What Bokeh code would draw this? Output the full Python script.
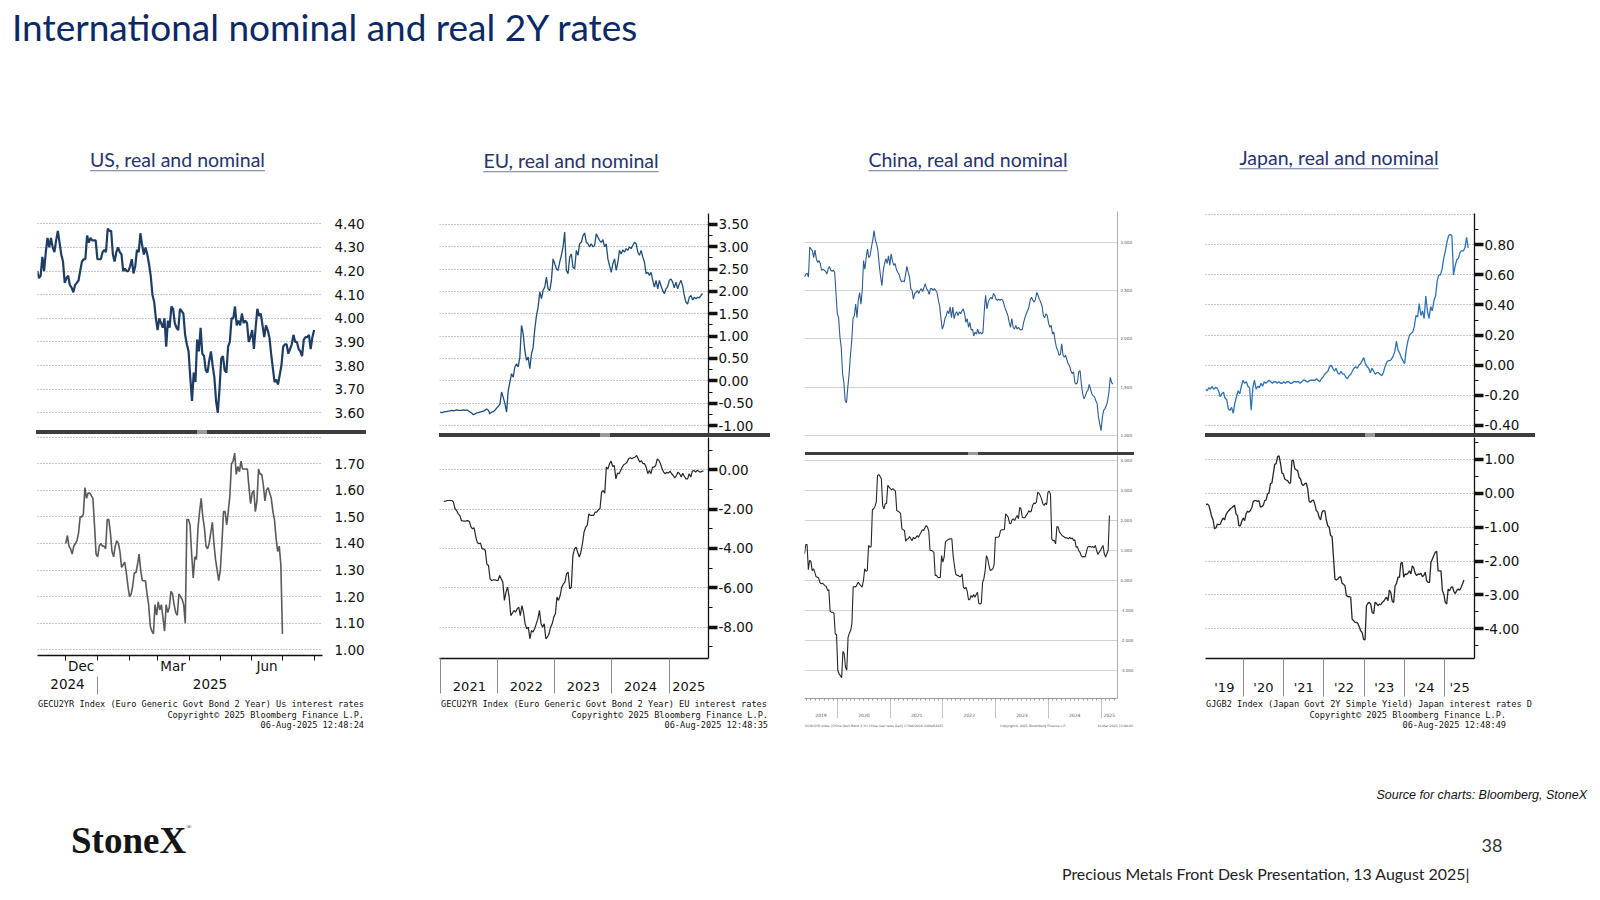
import numpy as np
import pandas as pd
from bokeh.plotting import figure
from bokeh.models import Range1d, LinearAxis, FixedTicker, NumeralTickFormatter, Div, Spacer
from bokeh.layouts import column, row
from bokeh.embed import file_html
from bokeh.resources import INLINE

# ------------------------------------------------------------------ data
TITLE = "International nominal and real 2Y rates"
SUBTITLES = ["US, real and nominal", "EU, real and nominal",
             "China, real and nominal", "Japan, real and nominal"]

US_NOMINAL_SPAN = ("2024-11-03", "2025-08-01")
US_NOMINAL = [4.20,4.17,4.18,4.26,4.20,4.28,4.34,4.30,4.34,4.30,4.28,4.33,4.37,4.32,4.27,4.24,4.15,4.17,4.18,4.14,
              4.13,4.11,4.14,4.15,4.16,4.20,4.24,4.25,4.25,4.35,4.32,4.34,4.33,4.33,4.33,4.25,4.25,4.25,4.28,4.29,
              4.28,4.38,4.37,4.37,4.27,4.24,4.28,4.30,4.28,4.27,4.20,4.21,4.20,4.20,4.22,4.25,4.19,4.22,4.29,4.28,
              4.36,4.31,4.27,4.30,4.27,4.23,4.18,4.10,4.07,4.00,3.95,4.00,3.98,3.96,4.00,3.88,3.99,3.96,4.05,4.04,
              3.98,3.96,3.95,4.04,4.03,4.02,3.93,3.89,3.86,3.75,3.65,3.77,3.73,3.91,3.86,3.96,3.85,3.84,3.78,3.77,
              3.82,3.86,3.80,3.75,3.65,3.60,3.70,3.83,3.84,3.78,3.77,3.88,3.90,4.00,4.00,4.05,3.97,3.99,3.97,4.02,
              3.98,3.99,3.98,3.90,3.92,3.95,3.87,3.96,4.04,4.01,4.02,3.97,3.92,3.97,3.95,3.92,3.85,3.79,3.73,3.74,
              3.72,3.76,3.80,3.88,3.89,3.89,3.85,3.87,3.89,3.93,3.90,3.90,3.87,3.86,3.84,3.91,3.92,3.92,3.93,3.87,
              3.92,3.95]
US_REAL_SPAN = ("2024-12-01", "2025-07-01")
US_REAL = [1.40,1.43,1.39,1.38,1.36,1.39,1.40,1.41,1.44,1.50,1.50,1.51,1.61,1.57,1.59,1.59,1.58,1.57,1.47,1.36,
           1.35,1.39,1.40,1.39,1.39,1.38,1.49,1.49,1.44,1.37,1.35,1.39,1.41,1.40,1.37,1.31,1.32,1.33,1.29,1.24,
           1.20,1.21,1.24,1.29,1.29,1.32,1.36,1.30,1.26,1.26,1.26,1.21,1.17,1.09,1.07,1.06,1.17,1.13,1.18,1.15,
           1.17,1.12,1.07,1.17,1.14,1.16,1.22,1.21,1.17,1.14,1.13,1.21,1.20,1.19,1.17,1.10,1.49,1.49,1.47,1.36,
           1.27,1.35,1.34,1.46,1.52,1.57,1.50,1.46,1.39,1.38,1.40,1.44,1.48,1.40,1.34,1.30,1.26,1.30,1.40,1.52,
           1.52,1.47,1.52,1.58,1.70,1.71,1.74,1.66,1.69,1.67,1.71,1.68,1.68,1.68,1.68,1.61,1.55,1.59,1.60,1.52,
           1.56,1.68,1.66,1.66,1.62,1.56,1.60,1.61,1.59,1.57,1.52,1.49,1.42,1.37,1.39,1.32,1.06]
US_NOMINAL_TICKS = [3.6, 3.7, 3.8, 3.9, 4.0, 4.1, 4.2, 4.3, 4.4]
US_REAL_TICKS = [1.0, 1.1, 1.2, 1.3, 1.4, 1.5, 1.6, 1.7]
US_REAL_GRID = [1.0, 1.1, 1.2, 1.3, 1.4, 1.5, 1.6, 1.7, 1.8]
US_MONTH_STARTS = ["2024-12-01", "2025-01-01", "2025-02-01", "2025-03-01", "2025-04-01",
                   "2025-05-01", "2025-06-01", "2025-07-01", "2025-08-01"]
US_MONTH_LABELS = ["Dec", "Mar", "Jun"]
US_MONTH_LABEL_AT = ["2024-12-16", "2025-03-16", "2025-06-16"]
US_YEARS = [2024, 2025]

EU_NOMINAL_SPAN = ("2020-12-27", "2025-08-04")
EU_NOMINAL = [-0.70,-0.71,-0.70,-0.69,-0.69,-0.68,-0.67,-0.66,-0.67,-0.66,-0.65,-0.66,-0.66,-0.66,-0.65,-0.66,
              -0.65,-0.67,-0.70,-0.72,-0.76,-0.74,-0.72,-0.71,-0.70,-0.69,-0.68,-0.66,-0.63,-0.66,-0.74,-0.70,
              -0.69,-0.66,-0.61,-0.57,-0.52,
              -0.25,-0.37,-0.51,-0.70,-0.22,-0.03,0.16,0.08,0.31,0.38,0.31,0.53,1.24,1.05,0.68,0.46,0.53,0.27,
              0.60,0.75,1.16,1.46,1.65,1.99,1.84,2.02,2.10,2.32,2.06,2.02,2.25,2.73,2.62,2.51,2.47,2.66,2.81,
              3.00,3.33,2.47,2.40,2.77,2.84,2.54,2.51,2.92,2.81,3.07,3.10,3.25,3.31,3.10,3.07,3.00,3.07,3.00,
              3.03,3.29,3.22,3.14,3.10,3.16,3.00,3.07,2.73,2.58,2.43,2.62,2.73,2.47,2.66,2.92,2.84,2.93,2.88,
              2.96,2.92,3.00,2.96,3.03,3.10,3.07,2.88,2.81,2.92,2.77,2.66,2.40,2.43,2.36,2.43,2.25,2.10,2.25,
              2.06,2.25,2.13,2.02,1.95,2.06,2.11,2.25,2.28,2.21,2.08,2.21,2.06,2.17,2.25,2.13,1.91,1.76,1.72,
              1.87,1.91,1.81,1.87,1.84,1.87,1.86,1.91,1.96]
EU_REAL_SPAN = ("2021-01-20", "2025-08-10")
EU_REAL = [-1.61,-1.60,-1.56,-1.56,-1.56,-1.56,-1.64,-1.98,-2.07,-2.24,-2.32,-2.58,-2.60,-2.61,-2.60,-2.58,
           -2.63,-2.90,-3.00,-2.95,-3.40,-3.70,-3.76,-3.73,-4.02,-4.02,-4.10,-4.80,-4.86,-5.54,-5.63,-5.60,
           -5.59,-5.62,-5.63,-5.37,-5.54,-5.71,
           -6.64,-6.22,-5.97,-6.47,-7.41,-7.29,-7.15,-7.24,-7.07,-6.98,-7.41,-6.90,-7.24,-7.83,-8.08,-8.00,
           -8.59,-8.17,-8.25,-8.08,-7.83,-7.58,-7.15,-7.83,-8.00,-7.83,-8.59,-8.51,-8.34,-8.00,-7.83,-7.49,
           -7.32,-6.47,-6.64,-6.39,-5.97,-5.80,-5.71,-5.29,-5.20,-6.05,-5.97,-4.36,-4.02,-3.93,-4.19,-4.44,
           -4.19,-3.76,-3.17,-2.92,-2.83,-2.24,-2.32,-2.32,-2.32,-2.15,-2.15,-2.03,-1.98,-1.14,-1.05,-1.19,
           0.14,0.05,0.31,0.44,0.17,0.22,-0.46,-0.17,-0.20,-0.03,0.14,0.27,0.31,0.39,0.56,0.61,0.56,0.61,
           0.64,0.73,0.56,0.39,0.47,0.31,0.31,0.14,-0.20,-0.03,-0.20,0.14,0.14,0.22,0.56,0.47,0.31,0.05,
           -0.12,-0.20,-0.12,-0.17,-0.07,-0.20,-0.29,-0.41,-0.29,-0.12,-0.20,-0.37,-0.17,-0.34,-0.46,-0.46,
           -0.20,-0.37,-0.07,-0.03,-0.12,-0.03,-0.07,-0.12,-0.07,-0.07]
EU_NOMINAL_TICKS = [-1.0, -0.5, 0.0, 0.5, 1.0, 1.5, 2.0, 2.5, 3.0, 3.5]
EU_NOMINAL_MINOR = [-0.75, -0.25, 0.25, 0.75, 1.25, 1.75, 2.25, 2.75, 3.25]
EU_REAL_TICKS = [-8.0, -6.0, -4.0, -2.0, 0.0]
EU_REAL_MINOR = [-9.0, -7.0, -5.0, -3.0, -1.0, 1.0]
EU_YEARS = [2021, 2022, 2023, 2024, 2025]

CN_NOMINAL_SPAN = ("2019-05-17", "2025-03-24")
CN_NOMINAL = [2.64,2.67,2.68,2.64,2.95,2.93,2.91,2.84,2.92,2.83,2.79,2.81,2.78,2.71,2.72,2.71,2.70,2.67,2.72,2.75,
              2.71,2.70,2.71,2.69,2.47,2.26,2.22,2.02,1.91,1.64,1.55,1.36,1.34,1.50,1.64,1.83,1.98,2.21,2.24,2.36,
              2.22,2.40,2.48,2.36,2.50,2.81,2.72,2.84,2.93,2.84,2.86,2.95,3.02,3.12,3.02,2.98,2.91,2.76,2.64,2.55,
              2.71,2.78,2.83,2.78,2.86,2.76,2.88,2.81,2.76,2.78,2.72,2.69,2.67,2.62,2.59,2.60,2.59,2.66,2.75,2.69,
              2.64,2.52,2.50,2.41,2.47,2.48,2.50,2.47,2.50,2.52,2.49,2.53,2.57,2.52,2.50,2.46,2.52,2.52,2.50,2.52,
              2.50,2.48,2.40,2.34,2.21,2.10,2.14,2.21,2.24,2.29,2.26,2.33,2.22,2.33,2.21,2.26,2.28,2.24,2.28,2.26,
              2.29,2.31,2.26,2.17,2.21,2.12,2.17,2.09,2.10,2.03,2.07,2.05,2.10,2.05,2.07,2.05,2.07,2.29,2.45,2.31,
              2.38,2.41,2.43,2.41,2.47,2.45,2.41,2.40,2.41,2.40,2.41,2.40,2.36,2.31,2.28,2.24,2.17,2.12,2.21,2.12,
              2.10,2.14,2.10,2.12,2.10,2.09,2.10,2.17,2.22,2.26,2.29,2.33,2.40,2.43,2.40,2.38,2.41,2.48,2.45,2.41,
              2.38,2.34,2.24,2.22,2.26,2.24,2.16,2.12,2.14,2.05,2.07,1.98,1.91,1.88,1.83,1.84,1.95,1.83,1.81,1.83,
              1.78,1.74,1.72,1.67,1.64,1.66,1.55,1.53,1.55,1.66,1.67,1.53,1.43,1.38,1.41,1.45,1.47,1.53,1.48,1.43,
              1.41,1.40,1.36,1.33,1.19,1.12,1.05,1.19,1.26,1.28,1.31,1.36,1.45,1.60,1.55,1.53]
CN_REAL_SPAN = ("2019-05-17", "2025-02-28")
CN_REAL = [0.89,1.20,1.20,0.36,0.67,0.64,0.33,0.39,0.28,0.13,0.11,0.09,-0.06,-0.11,-0.09,-0.13,-0.17,-0.20,-0.33,
           -0.31,-1.02,-1.06,-1.06,-1.09,-1.78,-1.80,-3.00,-3.11,-3.17,-3.24,-2.36,-2.44,-2.89,-2.98,-1.89,-1.76,
           -1.67,-1.44,-0.22,-0.20,-0.22,-0.13,-0.06,-0.13,-0.17,-0.22,0.00,0.39,0.31,0.33,1.17,1.11,1.13,2.36,
           2.39,2.47,2.61,3.50,3.53,3.47,3.39,2.50,2.39,2.56,2.56,3.17,3.11,3.06,3.02,3.06,3.02,2.98,2.33,2.31,
           2.28,2.24,1.72,1.69,1.67,1.31,1.38,1.39,1.47,1.39,1.33,1.44,1.39,1.44,1.50,1.44,1.53,1.61,1.69,1.67,
           1.76,1.83,1.78,1.64,1.00,1.00,0.98,0.94,0.17,0.17,0.11,0.09,0.11,0.83,0.61,0.78,1.28,1.33,1.36,1.38,
           1.39,1.39,0.83,0.50,0.22,0.17,0.17,0.13,0.13,0.22,-0.22,-0.28,-0.22,-0.36,-0.64,-0.64,-0.50,-0.56,
           -0.47,-0.56,-0.47,-0.39,-0.76,-0.78,-0.76,-0.06,0.06,0.33,0.83,0.72,0.50,0.33,0.36,0.39,0.53,1.44,
           1.44,1.44,1.47,1.67,1.69,1.69,1.69,2.22,2.17,2.11,1.91,1.89,2.02,2.06,2.00,2.09,2.17,2.06,2.44,2.39,
           2.11,2.09,2.09,2.17,2.22,2.33,2.28,2.31,2.50,2.58,2.56,2.61,2.94,2.91,2.83,2.72,2.56,2.50,2.58,2.53,
           2.94,2.98,2.87,1.39,1.33,1.33,1.22,1.80,1.78,1.61,1.56,1.50,1.47,1.44,1.42,1.42,1.39,1.44,1.39,1.42,
           1.33,1.36,1.11,1.13,1.00,0.94,0.83,0.78,0.80,0.78,0.94,1.11,1.13,1.13,1.11,1.13,1.09,1.17,1.00,0.87,
           0.94,1.00,1.09,1.17,0.89,0.78,0.89,1.00,2.17]
CN_NOMINAL_TICKS = [1.0, 1.5, 2.0, 2.5, 3.0]
CN_REAL_TICKS = [-3.0, -2.0, -1.0, 0.0, 1.0, 2.0, 3.0, 4.0]
CN_YEARS = [2019, 2020, 2021, 2022, 2023, 2024, 2025]

JP_NOMINAL_SPAN = ("2019-01-24", "2025-08-02")
JP_NOMINAL = [-0.16,-0.17,-0.15,-0.16,-0.14,-0.16,-0.15,-0.15,-0.17,-0.21,-0.19,-0.18,-0.22,-0.23,-0.29,-0.30,
              -0.28,-0.32,-0.25,-0.21,-0.17,-0.19,-0.14,-0.10,-0.12,-0.11,-0.14,-0.15,-0.30,-0.15,-0.10,-0.16,
              -0.14,-0.15,-0.12,-0.14,-0.11,-0.12,-0.11,-0.10,-0.11,
              -0.12,-0.11,-0.11,-0.12,-0.11,-0.12,-0.12,-0.11,-0.12,-0.11,-0.11,-0.12,-0.12,-0.11,-0.11,-0.11,
              -0.11,-0.12,-0.11,-0.10,-0.10,-0.11,-0.11,-0.10,-0.10,-0.10,-0.10,-0.09,-0.10,
              -0.11,-0.09,-0.08,-0.06,-0.05,-0.04,-0.01,0.00,-0.02,-0.04,-0.02,-0.05,-0.06,-0.04,-0.06,-0.06,
              -0.08,-0.09,-0.07,-0.06,-0.04,-0.02,-0.01,-0.02,0.00,0.01,0.03,0.05,0.01,-0.01,-0.02,-0.05,-0.02,
              -0.04,-0.06,-0.05,-0.05,-0.06,-0.07,-0.05,-0.01,0.02,0.03,0.03,0.04,0.06,0.09,0.16,0.10,0.08,0.05,
              0.03,0.01,0.10,0.16,0.20,0.21,0.22,0.26,0.33,0.32,0.41,0.33,0.36,0.31,0.46,0.36,0.31,0.39,0.36,
              0.43,0.46,0.56,0.60,0.60,0.64,0.71,0.76,0.82,0.86,0.87,0.86,0.60,0.66,0.70,0.71,0.75,0.76,0.76,
              0.78,0.85,0.78]
JP_REAL_SPAN = ("2019-01-28", "2025-06-24")
JP_REAL = [-0.33,-0.32,-0.36,-0.51,-0.69,-0.79,-1.05,-1.02,-0.91,-0.93,-0.91,-0.81,-0.73,-0.79,-0.63,-0.56,-0.51,
           -0.46,-0.43,-0.39,-0.36,-0.61,-0.66,-0.96,-0.96,-0.83,-0.73,-0.81,-0.61,-0.53,-0.56,-0.51,-0.43,-0.24,
           -0.22,-0.22,-0.24,-0.22,-0.41,-0.39,-0.36,-0.22,-0.20,-0.02,0.00,0.28,0.30,0.57,0.85,0.87,1.08,1.10,
           0.89,0.59,0.57,0.42,0.39,0.37,0.30,0.30,0.97,0.97,0.72,0.69,0.67,0.47,0.42,0.26,0.23,0.28,0.30,0.13,
           -0.24,-0.27,-0.22,-0.20,-0.33,-0.51,-0.56,-0.71,-0.79,-0.56,-0.51,-0.53,-0.79,-0.96,-1.00,-1.25,-1.28,
           -1.89,-2.53,-2.56,-2.53,-2.48,-2.46,-2.66,-2.68,-2.73,-3.02,-3.05,-3.05,-3.07,-3.71,-3.76,-3.81,-3.81,
           -3.84,-3.94,-4.06,-4.11,-4.31,-4.33,-3.32,-3.25,-3.22,-3.27,-3.52,-3.55,-3.22,-3.25,-3.32,-3.27,-3.29,
           -3.22,-3.19,-3.12,-3.07,-3.17,-2.86,-2.93,-3.19,-3.22,-2.73,-2.66,-2.48,-2.48,-2.07,-2.04,-2.48,-2.38,
           -2.40,-2.36,-2.29,-2.38,-2.14,-2.21,-2.36,-2.43,-2.38,-2.40,-2.36,-2.46,-2.43,-2.33,-2.58,-2.63,-2.63,
           -2.04,-1.94,-1.84,-1.74,-1.71,-2.29,-2.29,-2.29,-2.88,-2.98,-3.22,-3.27,-2.83,-2.88,-2.78,-2.76,-2.90,
           -2.96,-2.86,-2.83,-2.86,-2.78,-2.68,-2.56]
JP_NOMINAL_TICKS = [-0.4, -0.2, 0.0, 0.2, 0.4, 0.6, 0.8]
JP_NOMINAL_GRID = [-0.4, -0.2, 0.0, 0.2, 0.4, 0.6, 0.8, 1.0]
JP_NOMINAL_MINOR = [-0.3, -0.1, 0.1, 0.3, 0.5, 0.7, 0.9]
JP_REAL_TICKS = [-4.0, -3.0, -2.0, -1.0, 0.0, 1.0]
JP_REAL_MINOR = [-4.5, -3.5, -2.5, -1.5, -0.5, 0.5, 1.5]
JP_YEARS = [2019, 2020, 2021, 2022, 2023, 2024, 2025]
JP_YEAR_LABELS = ["'19", "'20", "'21", "'22", "'23", "'24", "'25"]

FOOT_US = ["GECU2YR Index (Euro Generic Govt Bond 2 Year) Us interest rates",
           "Copyright\u00a9 2025 Bloomberg Finance L.P.", "06-Aug-2025 12:48:24"]
FOOT_EU = ["GECU2YR Index (Euro Generic Govt Bond 2 Year) EU interest rates",
           "Copyright\u00a9 2025 Bloomberg Finance L.P.", "06-Aug-2025 12:48:35"]
FOOT_JP = ["GJGB2 Index (Japan Govt 2Y Simple Yield) Japan interest rates  D",
           "Copyright\u00a9 2025 Bloomberg Finance L.P.", "06-Aug-2025 12:48:49"]
FOOT_CN = ["GCNY2YR Index (China Govt Bond 2 Yr) China real rates  Daily 17MAY2019-24MAR2025",
           "Copyright\u00a9 2025 Bloomberg Finance L.P.", "24-Mar-2025 15:00:02"]

SOURCE = "Source for charts: Bloomberg, StoneX"
PAGE_NO = "38"
DECK = "Precious Metals Front Desk Presentation, 13 August 2025|"
LOGO = "StoneX"

# ------------------------------------------------------------------ helpers
LABEL_FONT = "DejaVu Sans"


def ms(s):
    return float(pd.Timestamp(s).value / 1e6)


def xs(span, n):
    return np.linspace(ms(span[0]), ms(span[1]), n)


def year_marks(xr, years):
    x0, x1 = ms(xr[0]), ms(xr[1])
    centers = []
    for y in years:
        a = max(x0, ms(f"{y}-01-01"))
        b = min(x1, ms(f"{y + 1}-01-01"))
        centers.append((a + b) / 2.0)
    bounds = [ms(f"{y}-01-01") for y in years if x0 < ms(f"{y}-01-01") < x1]
    return centers, bounds


def make_panel(w, h, xr, yr, borders, x_axis=False):
    top, right, bottom, left = borders
    p = figure(width=w, height=h, x_range=Range1d(ms(xr[0]), ms(xr[1])), y_range=Range1d(*yr),
               output_backend="svg", toolbar_location=None,
               x_axis_location="below" if x_axis else None, y_axis_location="right",
               min_border_top=top, min_border_right=right, min_border_bottom=bottom, min_border_left=left)
    p.outline_line_color = None
    p.xgrid.visible = False
    p.background_fill_color = "white"
    p.border_fill_color = "white"
    return p


def style_y(p, ticks, minor, grid, fmt, font_size="13.5px", color="#111111", axis_color=None,
            tick_out=0, tick_w=1.0, minor_out=0, standoff=12,
            grid_color="#8a8a8a", grid_dash="1 2", grid_w=1.0, axis_w=1.3):
    ax = p.yaxis[0]
    ax.ticker = FixedTicker(ticks=ticks, minor_ticks=minor)
    ax.formatter = NumeralTickFormatter(format=fmt)
    ax.major_label_text_font = LABEL_FONT
    ax.major_label_text_font_size = font_size
    ax.major_label_text_color = color
    ax.axis_line_color = axis_color
    ax.axis_line_width = axis_w
    ax.major_tick_in = 0
    ax.minor_tick_in = 0
    ax.major_tick_out = tick_out
    ax.minor_tick_out = minor_out
    ax.major_tick_line_width = tick_w
    ax.major_tick_line_color = axis_color if tick_out else None
    ax.minor_tick_line_color = axis_color if minor_out else None
    ax.major_label_standoff = standoff
    g = p.ygrid[0]
    g.ticker = FixedTicker(ticks=grid)
    g.grid_line_color = grid_color
    g.grid_line_dash = grid_dash
    g.grid_line_width = grid_w


def style_x(ax, ticks, labels, minor, minor_color, minor_out, standoff, font_size="13.5px",
            line_color="#111111", line_w=1.3, label_color="#111111"):
    # Bokeh measures the label standoff from the end of the longest tick
    ax.ticker = FixedTicker(ticks=list(ticks), minor_ticks=list(minor))
    ax.major_label_overrides = {float(t): l for t, l in zip(ticks, labels)}
    ax.major_tick_out = 0
    ax.major_tick_in = 0
    ax.major_tick_line_color = None
    ax.minor_tick_out = minor_out
    ax.minor_tick_in = 0
    ax.minor_tick_line_color = minor_color
    ax.axis_line_color = line_color
    ax.axis_line_width = line_w
    ax.major_label_standoff = standoff
    ax.major_label_text_font = LABEL_FONT
    ax.major_label_text_font_size = font_size
    ax.major_label_text_color = label_color


def div(html, w, h):
    return Div(text=html, width=w, height=h, margin=(0, 0, 0, 0))


def subtitle_div(text, cx, cy):
    return div(f'<div style="position:relative;width:332px;height:60px;">'
               f'<div style="position:absolute;left:{cx}px;top:{cy}px;transform:translate(-50%,-50%);'
               f'font-family:Lato;font-size:19.5px;line-height:1;color:#27336e;white-space:nowrap;'
               f'text-decoration:underline;text-decoration-color:#6d76a3;text-underline-offset:3px;">'
               f'{text}</div></div>', 332, 60)


def sep_div(left, width, h, handle_left):
    grad = (f"linear-gradient(to right, #3d3d3d {handle_left}px, #9a9a9a {handle_left}px, "
            f"#9a9a9a {handle_left + 10}px, #3d3d3d {handle_left + 10}px)")
    return Div(text="", width=width, height=h, margin=(0, 332 - left - width, 0, left),
               styles={"background": grad})


def foot_div(lines, left, right):
    st = ("position:absolute;font-family:'DejaVu Sans Mono';font-size:8.6px;line-height:10.5px;"
          "color:#111;white-space:nowrap;")
    return div(f'<div style="position:relative;width:332px;height:43px;overflow:hidden;">'
               f'<div style="{st}left:{left}px;top:2px;">{lines[0]}</div>'
               f'<div style="{st}right:{right}px;top:12.5px;text-align:right;">{lines[1]}</div>'
               f'<div style="{st}right:{right}px;top:23px;text-align:right;">{lines[2]}</div>'
               f'</div>', 332, 43)


# ------------------------------------------------------------------ US
US_X = ("2024-11-03 07:00", "2025-08-09 05:00")
us_top = make_panel(332, 230, US_X, (3.525, 4.4436), (13, 46, 0, 1))
us_top.line(xs(US_NOMINAL_SPAN, len(US_NOMINAL)), US_NOMINAL, line_color="#1f3d63", line_width=2.2)
style_y(us_top, US_NOMINAL_TICKS, [], US_NOMINAL_TICKS, "0.00", standoff=12)

us_bot = make_panel(332, 263, US_X, (0.9786, 1.810), (0, 46, 42, 1), x_axis=True)
us_bot.line(xs(US_REAL_SPAN, len(US_REAL)), US_REAL, line_color="#5a5a5a", line_width=1.6)
style_y(us_bot, US_REAL_TICKS, [], US_REAL_GRID, "0.00", standoff=12)
style_x(us_bot.xaxis[0], [ms(d) for d in US_MONTH_LABEL_AT], US_MONTH_LABELS,
        [ms(d) for d in US_MONTH_STARTS], "#111111", 5, -3)
us_centers, us_bounds = year_marks(US_X, US_YEARS)
us_year_ax = LinearAxis()
style_x(us_year_ax, us_centers, [str(y) for y in US_YEARS], us_bounds, "#8c8c8c", 18, -16, line_color=None)
us_bot.add_layout(us_year_ax, "below")

us_col = column(subtitle_div(SUBTITLES[0], 141.5, 20), us_top, sep_div(0, 330, 4, 161), us_bot,
                foot_div(FOOT_US, 2, 4), spacing=0)

# ------------------------------------------------------------------ EU
EU_X = ("2020-12-23", "2025-09-11")
eu_top = make_panel(332, 233, EU_X, (-1.179, 3.746), (13, 63, 0, 0))
eu_top.line(xs(EU_NOMINAL_SPAN, len(EU_NOMINAL)), EU_NOMINAL, line_color="#1f4e79", line_width=1.3)
style_y(eu_top, EU_NOMINAL_TICKS, EU_NOMINAL_MINOR, EU_NOMINAL_TICKS, "0.00", axis_color="#111111",
        tick_out=9, tick_w=3.5, minor_out=4, standoff=1)

eu_bot = make_panel(332, 260, EU_X, (-9.593, 1.642), (0, 63, 39, 0), x_axis=True)
eu_bot.line(xs(EU_REAL_SPAN, len(EU_REAL)), EU_REAL, line_color="#262626", line_width=1.2)
style_y(eu_bot, EU_REAL_TICKS, EU_REAL_MINOR, EU_REAL_TICKS, "0.00", axis_color="#111111",
        tick_out=9, tick_w=3.5, minor_out=4, standoff=1)
eu_centers, eu_bounds = year_marks(EU_X, EU_YEARS)
style_x(eu_bot.xaxis[0], eu_centers, [str(y) for y in EU_YEARS], eu_bounds, "#8c8c8c", 35, -12,
        font_size="13px", line_w=1.6)

eu_col = column(subtitle_div(SUBTITLES[1], 132, 21), eu_top, sep_div(0, 331, 4, 161), eu_bot,
                foot_div(FOOT_EU, 2, 3), spacing=0)

# ------------------------------------------------------------------ China
CN_X = ("2019-05-17", "2025-04-25")
cn_top = make_panel(332, 252, CN_X, (0.824, 3.318), (11, 16, 0, 0))
cn_top.line(xs(CN_NOMINAL_SPAN, len(CN_NOMINAL)), CN_NOMINAL, line_color="#2c5c8f", line_width=1.1)
style_y(cn_top, CN_NOMINAL_TICKS, [], CN_NOMINAL_TICKS, "0.000", font_size="4px", color="#555555",
        axis_color="#9a9a9a", standoff=3, grid_color="#d2d2d2", grid_dash="solid", grid_w=1.2, axis_w=0.8)

cn_bot = make_panel(332, 267, CN_X, (-3.933, 4.167), (0, 16, 24, 0), x_axis=True)
cn_bot.line(xs(CN_REAL_SPAN, len(CN_REAL)), CN_REAL, line_color="#262626", line_width=1.1)
style_y(cn_bot, CN_REAL_TICKS, [], CN_REAL_TICKS, "0.000", font_size="4px", color="#555555",
        axis_color="#9a9a9a", standoff=3, grid_color="#d2d2d2", grid_dash="solid", grid_w=1.2, axis_w=0.8)
cn_months = [ms(d) for d in pd.date_range("2019-06-01", "2025-04-01", freq="MS")]
style_x(cn_bot.xaxis[0], [], [], cn_months, "#9a9a9a", 2, 0, font_size="4px", line_color="#9a9a9a", line_w=1.0)
cn_centers, cn_bounds = year_marks(CN_X, CN_YEARS)
cn_year_ax = LinearAxis()
style_x(cn_year_ax, cn_centers, [str(y) for y in CN_YEARS], cn_bounds, "#c4c4c4", 18, -6,
        font_size="4.5px", line_color=None, label_color="#555555")
cn_bot.add_layout(cn_year_ax, "below")

cn_foot_st = "position:absolute;font-family:'DejaVu Sans';font-size:3.2px;line-height:4px;color:#555;white-space:nowrap;"
cn_foot = div(f'<div style="position:relative;width:332px;height:18px;overflow:hidden;">'
              f'<div style="{cn_foot_st}left:1px;top:2px;">{FOOT_CN[0]}</div>'
              f'<div style="{cn_foot_st}left:196px;top:2px;">{FOOT_CN[1]}</div>'
              f'<div style="{cn_foot_st}right:3px;top:2px;">{FOOT_CN[2]}</div></div>', 332, 18)

cn_col = column(subtitle_div(SUBTITLES[2], 164, 20), cn_top, sep_div(1, 329, 3, 163), cn_bot, cn_foot,
                spacing=0)

# ------------------------------------------------------------------ Japan
JP_X = ("2019-01-24", "2025-09-28")
jp_top = make_panel(332, 233, JP_X, (-0.454, 1.008), (13, 63, 0, 0))
jp_top.line(xs(JP_NOMINAL_SPAN, len(JP_NOMINAL)), JP_NOMINAL, line_color="#2e72b8", line_width=1.3)
style_y(jp_top, JP_NOMINAL_TICKS, JP_NOMINAL_MINOR, JP_NOMINAL_GRID, "0.00", axis_color="#111111",
        tick_out=9, tick_w=3.5, minor_out=4, standoff=1)

jp_bot = make_panel(332, 260, JP_X, (-4.876, 1.643), (0, 63, 39, 0), x_axis=True)
jp_bot.line(xs(JP_REAL_SPAN, len(JP_REAL)), JP_REAL, line_color="#262626", line_width=1.3)
style_y(jp_bot, JP_REAL_TICKS, JP_REAL_MINOR, JP_REAL_TICKS, "0.00", axis_color="#111111",
        tick_out=9, tick_w=3.5, minor_out=4, standoff=1)
jp_centers, jp_bounds = year_marks(JP_X, JP_YEARS)
style_x(jp_bot.xaxis[0], jp_centers, JP_YEAR_LABELS, jp_bounds, "#8c8c8c", 38, -17,
        font_size="13px", line_w=1.6)

jp_col = column(subtitle_div(SUBTITLES[3], 134, 18), jp_top, sep_div(0, 330, 4, 160), jp_bot,
                foot_div(FOOT_JP, 1, 31), spacing=0)

# ------------------------------------------------------------------ page
title_div = div(f'<div style="position:relative;width:1584px;height:132px;">'
                f'<div style="position:absolute;left:4px;top:0px;font-family:Lato;font-size:37px;'
                f'line-height:1;color:#0b2867;white-space:nowrap;">{TITLE}</div></div>', 1584, 132)

charts = row(Spacer(width=28, height=600, margin=(0, 0, 0, 0)), us_col,
             Spacer(width=71, height=600, margin=(0, 0, 0, 0)), eu_col,
             Spacer(width=33, height=600, margin=(0, 0, 0, 0)), cn_col,
             Spacer(width=69, height=600, margin=(0, 0, 0, 0)), jp_col, spacing=0)

footer_div = div(
    f'<div style="position:relative;width:1584px;height:152px;font-family:Lato;">'
    f'<div style="position:absolute;right:5px;top:55px;transform:translateY(-50%);font-family:\'Liberation Sans\';'
    f'font-style:italic;font-size:12.5px;line-height:1;color:#111;white-space:nowrap;">{SOURCE}</div>'
    f'<div style="position:absolute;left:1484px;top:105px;transform:translate(-50%,-50%);font-size:18px;'
    f'line-height:1;color:#333;">{PAGE_NO}</div>'
    f'<div style="position:absolute;left:1054px;top:134px;transform:translateY(-50%);font-size:15.9px;'
    f'line-height:1;color:#222;white-space:nowrap;">{DECK}</div>'
    f'<div style="position:absolute;left:63px;top:100px;transform:translateY(-50%);font-family:\'Liberation Serif\';'
    f'font-weight:bold;font-size:37px;line-height:1;color:#151515;white-space:nowrap;">{LOGO}'
    f'<span style="font-size:7px;font-weight:normal;vertical-align:top;position:relative;top:2px;">\u00ae</span></div>'
    f'</div>', 1584, 152)

page = column(title_div, charts, footer_div, spacing=0)
framed = column(Spacer(width=1592, height=8, margin=(0, 0, 0, 0)),
                row(Spacer(width=8, height=884, margin=(0, 0, 0, 0)), page, spacing=0), spacing=0)

open("out.html", "w").write(file_html(framed, INLINE))
